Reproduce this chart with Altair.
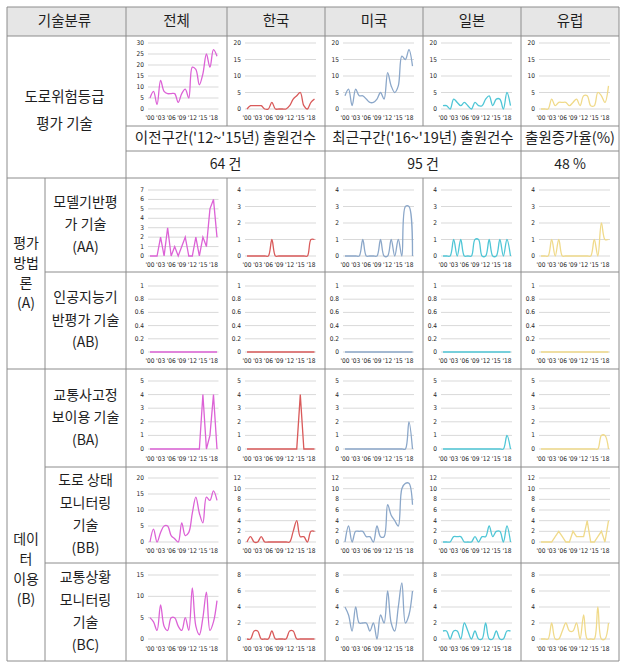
import altair as alt
import pandas as pd

# ---------------- data ----------------
YEARS = [2000, 2001, 2002, 2003, 2004, 2005, 2006, 2007, 2008, 2009,
         2010, 2011, 2012, 2013, 2014, 2015, 2016, 2017, 2018, 2019]
X_TICK_YEARS = [2000, 2003, 2006, 2009, 2012, 2015, 2018]
X_TICK_LABELS = ["'00", "'03", "'06", "'09", "'12", "'15", "'18"]

COUNTRIES = ["전체", "한국", "미국", "일본", "유럽"]
COLORS = ["#dc62d6", "#d95a5a", "#8ba7c9", "#4fc6d6", "#f0da8a"]

# 도로위험등급 평가 기술
road_total = [5, 8, 2, 13, 8, 7, 7, 7, 3, 7, 9, 5, 19, 18, 11, 16, 25, 19, 27, 24]
road_kr = [0, 1, 1, 1, 1, 0, 0, 2, 0, 0, 0, 0, 1, 3, 4, 5, 1, 0, 2, 3]
road_us = [4, 6, 1, 6, 4, 4, 3, 2, 2, 3, 5, 3, 11, 7, 5, 7, 16, 15, 18, 13]
road_jp = [1, 1, 0, 3, 2, 1, 2, 1, 0, 2, 1, 1, 3, 4, 1, 3, 3, 0, 5, 1]
road_eu = [0, 0, 0, 3, 1, 2, 2, 2, 1, 2, 3, 1, 4, 4, 1, 1, 5, 4, 2, 7]

# AA 모델기반평가 기술
aa_total = [0, 0, 0, 2, 0, 3, 0, 1, 0, 1, 2, 0, 0, 2, 0, 2, 1, 5, 6, 2]
aa_kr = [0, 0, 0, 0, 0, 0, 0, 1, 0, 0, 0, 0, 0, 0, 0, 0, 0, 0, 1, 1]
aa_us = [0, 0, 0, 0, 0, 1, 0, 0, 0, 0, 1, 0, 0, 1, 0, 1, 0, 3, 3, 0]
aa_jp = [0, 0, 0, 1, 0, 1, 0, 0, 0, 1, 1, 0, 0, 1, 0, 0, 1, 0, 1, 0]
aa_eu = [0, 0, 0, 1, 0, 1, 0, 0, 0, 0, 0, 0, 0, 0, 0, 1, 0, 2, 1, 1]

# AB 인공지능기반평가 기술
ab_total = [0, 0, 0, 0, 0, 0, 0, 0, 0, 0, 0, 0, 0, 0, 0, 0, 0, 0, 0, 0]
ab_kr = [0, 0, 0, 0, 0, 0, 0, 0, 0, 0, 0, 0, 0, 0, 0, 0, 0, 0, 0, 0]
ab_us = [0, 0, 0, 0, 0, 0, 0, 0, 0, 0, 0, 0, 0, 0, 0, 0, 0, 0, 0, 0]
ab_jp = [0, 0, 0, 0, 0, 0, 0, 0, 0, 0, 0, 0, 0, 0, 0, 0, 0, 0, 0, 0]
ab_eu = [0, 0, 0, 0, 0, 0, 0, 0, 0, 0, 0, 0, 0, 0, 0, 0, 0, 0, 0, 0]

# BA 교통사고정보이용 기술
ba_total = [0, 0, 0, 0, 0, 0, 0, 0, 0, 0, 0, 0, 0, 0, 0, 4, 0, 1, 4, 0]
ba_kr = [0, 0, 0, 0, 0, 0, 0, 0, 0, 0, 0, 0, 0, 0, 0, 4, 0, 0, 0, 0]
ba_us = [0, 0, 0, 0, 0, 0, 0, 0, 0, 0, 0, 0, 0, 0, 0, 0, 0, 0, 2, 0]
ba_jp = [0, 0, 0, 0, 0, 0, 0, 0, 0, 0, 0, 0, 0, 0, 0, 0, 0, 0, 1, 0]
ba_eu = [0, 0, 0, 0, 0, 0, 0, 0, 0, 0, 0, 0, 0, 0, 0, 0, 0, 1, 1, 0]

# BB 도로 상태 모니터링 기술
bb_total = [0, 4, 0, 3, 5, 5, 2, 1, 0, 6, 2, 3, 9, 14, 9, 6, 14, 13, 16, 13]
bb_kr = [0, 1, 0, 0, 1, 0, 0, 0, 0, 0, 0, 0, 0, 2, 4, 1, 1, 0, 2, 2]
bb_us = [0, 3, 0, 2, 2, 2, 1, 1, 0, 3, 1, 1, 7, 5, 4, 3, 10, 11, 11, 7]
bb_jp = [0, 0, 0, 1, 1, 1, 0, 0, 0, 1, 0, 1, 1, 3, 1, 2, 2, 0, 3, 0]
bb_eu = [0, 0, 0, 0, 1, 2, 1, 0, 0, 2, 1, 1, 1, 4, 0, 0, 1, 2, 0, 4]

# BC 교통상황 모니터링 기술
bc_total = [5, 4, 2, 8, 3, 2, 5, 5, 3, 2, 5, 2, 12, 3, 1, 5, 11, 2, 4, 9]
bc_kr = [0, 0, 1, 1, 0, 0, 0, 1, 0, 0, 0, 0, 1, 1, 0, 0, 0, 0, 0, 0]
bc_us = [4, 3, 1, 4, 2, 2, 2, 1, 2, 0, 3, 2, 6, 2, 1, 4, 7, 2, 3, 6]
bc_jp = [1, 1, 0, 1, 1, 0, 2, 1, 0, 1, 0, 0, 2, 0, 0, 1, 0, 0, 1, 1]
bc_eu = [0, 0, 0, 2, 0, 0, 1, 2, 1, 1, 2, 0, 3, 0, 0, 0, 4, 0, 0, 2]

# y-axis ticks (전체, 나머지 국가)
road_ticks = ([0, 5, 10, 15, 20, 25, 30], [0, 5, 10, 15, 20])
aa_ticks = ([0, 1, 2, 3, 4, 5, 6, 7], [0, 1, 2, 3, 4])
ab_ticks = ([0, 0.2, 0.4, 0.6, 0.8, 1], [0, 0.2, 0.4, 0.6, 0.8, 1])
ba_ticks = ([0, 1, 2, 3, 4, 5], [0, 1, 2, 3, 4, 5])
bb_ticks = ([0, 5, 10, 15, 20], [0, 2, 4, 6, 8, 10, 12])
bc_ticks = ([0, 5, 10, 15], [0, 2, 4, 6, 8])

# texts
HEADER_LEFT = "기술분류"
ROAD_LABEL = ["도로위험등급", "평가 기술"]
SUMMARY_LABELS = ["이전구간('12~'15년) 출원건수", "최근구간('16~'19년) 출원건수", "출원증가율(%)"]
SUMMARY_VALUES = ["64 건", "95 건", "48 %"]
GROUP_LABELS = [["평가", "방법", "론", "(A)"], ["데이", "터", "이용", "(B)"]]
SUB_LABELS = [["모델기반평", "가 기술", "(AA)"], ["인공지능기", "반평가 기술", "(AB)"],
              ["교통사고정", "보이용 기술", "(BA)"], ["도로 상태", "모니터링", "기술", "(BB)"],
              ["교통상황", "모니터링", "기술", "(BC)"]]

# ---------------- styling / layout ----------------
W, H = 627, 669
FONT = "Noto Sans CJK KR"
NUM_FONT = "Liberation Sans Narrow, DejaVu Sans Condensed, Liberation Sans"
BORDER = "#8c8c8c"
GRID = "#d9d9d9"
HEADER_FILL = "#e6e6e6"
TEXT_COLOR = "#1e1e1e"
TICK_COLOR = "#262626"

# column edges: outer-left, group|sub, sub|전체, 전체|한국, 한국|미국, 미국|일본, 일본|유럽, right
XE = [7, 45, 126, 227, 325, 423, 521, 619]
COL_LEFT = XE[2:7]
COL_RIGHT = XE[3:8]
# row edges
Y_TOP, Y_HEAD, Y_ROAD, Y_SUML, Y_SUMV = 7, 36, 126, 151, 178
Y_AA, Y_AB, Y_BA, Y_BB, Y_BC = 272, 369, 467, 563, 661

# spark rows: (row top, plot-top offset, zero-line offset, x-label offset)
SPARK_ROWS = [
    (Y_HEAD, 7, 73, 82),
    (Y_SUMV, 12, 78, 87),
    (Y_AA, 14, 80, 89),
    (Y_AB, 12, 80, 90),
    (Y_BA, 11, 75, 84),
    (Y_BB, 12, 76, 86),
]
C, L = "catmull-rom", "linear"
SPARK_DATA = [
    ([road_total, road_kr, road_us, road_jp, road_eu], road_ticks, [C, C, C, C, C]),
    ([aa_total, aa_kr, aa_us, aa_jp, aa_eu], aa_ticks, [L, C, C, C, C]),
    ([ab_total, ab_kr, ab_us, ab_jp, ab_eu], ab_ticks, [L, L, L, L, L]),
    ([ba_total, ba_kr, ba_us, ba_jp, ba_eu], ba_ticks, [L, L, C, C, C]),
    ([bb_total, bb_kr, bb_us, bb_jp, bb_eu], bb_ticks, [C, C, C, C, L]),
    ([bc_total, bc_kr, bc_us, bc_jp, bc_eu], bc_ticks, [C, C, C, C, C]),
]


def fmt(v):
    return f"{v:g}"


def spark(values, color, ticks, cx, cw, ry, top, zero, lab, interp, wide):
    x0 = cx + (24 if wide else 20)
    x1 = cx + cw - (10 if wide else 10.5)
    xs = alt.Scale(domain=[YEARS[0], YEARS[-1]], range=[x0, x1], zero=False, nice=False)
    ys = alt.Scale(domain=[ticks[0], ticks[-1]], range=[ry + zero, ry + top], zero=False, nice=False)
    tick_df = pd.DataFrame({"v": ticks, "lab": [fmt(t) for t in ticks]})
    xt_df = pd.DataFrame({"year": X_TICK_YEARS, "lab": X_TICK_LABELS})
    line_df = pd.DataFrame({"year": YEARS, "v": values})
    grid = alt.Chart(tick_df).mark_rule(color=GRID, strokeWidth=1).encode(
        y=alt.Y("v:Q", scale=ys, axis=None),
        x=alt.value(x0 - 2), x2=alt.value(x1 + 1.5))
    ylab = alt.Chart(tick_df).mark_text(
        font=NUM_FONT, fontSize=6.5, align="right", baseline="middle", color=TICK_COLOR
    ).encode(y=alt.Y("v:Q", scale=ys, axis=None), x=alt.value(x0 - 6), text="lab:N")
    xlab = alt.Chart(xt_df).mark_text(
        font=NUM_FONT, fontSize=6.5, align="center", baseline="middle", color=TICK_COLOR
    ).encode(x=alt.X("year:Q", scale=xs, axis=None), y=alt.value(ry + lab), text="lab:N")
    line = alt.Chart(line_df).mark_line(
        color=color, strokeWidth=1.3, interpolate=interp
    ).encode(x=alt.X("year:Q", scale=xs, axis=None), y=alt.Y("v:Q", scale=ys, axis=None))
    return alt.layer(grid, ylab, xlab, line)


layers = []

# header background
layers.append(alt.Chart(alt.Data(values=[{}])).mark_rect(color=HEADER_FILL).encode(
    x=alt.value(XE[0]), x2=alt.value(XE[-1]), y=alt.value(Y_TOP), y2=alt.value(Y_HEAD)))

# sparklines
for (ry, top, zero, lab), (series, ticks, interps) in zip(SPARK_ROWS, SPARK_DATA):
    for i in range(5):
        t = ticks[0] if i == 0 else ticks[1]
        layers.append(spark(series[i], COLORS[i], t, COL_LEFT[i], COL_RIGHT[i] - COL_LEFT[i],
                            ry, top, zero, lab, interps[i], i == 0))

# table lines (layout)
segs = []
def hseg(y, xa, xb):
    segs.append({"x": xa, "x2": xb, "y": y, "y2": y})
def vseg(x, ya, yb):
    segs.append({"x": x, "x2": x, "y": ya, "y2": yb})

for y in [Y_TOP, Y_HEAD, Y_SUMV, Y_AB, Y_BC]:
    hseg(y, XE[0], XE[-1])
for y in [Y_ROAD, Y_SUML]:
    hseg(y, XE[2], XE[-1])
for y in [Y_AA, Y_BA, Y_BB]:
    hseg(y, XE[1], XE[-1])
for x in [XE[0], XE[2], XE[4], XE[6], XE[7]]:
    vseg(x, Y_TOP, Y_BC)
vseg(XE[1], Y_SUMV, Y_BC)
for x in [XE[3], XE[5]]:
    vseg(x, Y_TOP, Y_ROAD)
    vseg(x, Y_SUMV, Y_BC)

layers.append(alt.Chart(pd.DataFrame(segs)).mark_rule(color=BORDER, strokeWidth=1).encode(
    x=alt.X("x:Q", scale=None), x2="x2:Q", y=alt.Y("y:Q", scale=None), y2="y2:Q"))

# texts (layout positions)
texts = []
def put(t, x, y, size):
    texts.append({"t": t, "x": x, "y": y, "s": size})

def put_lines(lines, x, yc, lh, size):
    n = len(lines)
    for k, t in enumerate(lines):
        put(t, x, yc + (k - (n - 1) / 2) * lh, size)

hy = (Y_TOP + Y_HEAD) / 2 + 0.5
put(HEADER_LEFT, (XE[0] + XE[2]) / 2 - 2, hy, 14.5)
for i, c in enumerate(COUNTRIES):
    put(c, (COL_LEFT[i] + COL_RIGHT[i]) / 2, hy, 14.5)
put_lines(ROAD_LABEL, (XE[0] + XE[2]) / 2 - 2, 111, 27, 14.5)
sum_x = [(XE[2] + XE[4]) / 2, (XE[4] + XE[6]) / 2, (XE[6] + XE[7]) / 2]
for k in range(3):
    put(SUMMARY_LABELS[k], sum_x[k], (Y_ROAD + Y_SUML) / 2 + 0.5, 14.5)
    put(SUMMARY_VALUES[k], sum_x[k], (Y_SUML + Y_SUMV) / 2 + 0.5, 14)
gx = (XE[0] + XE[1]) / 2
put_lines(GROUP_LABELS[0], gx, (Y_SUMV + Y_AB) / 2, 20, 14)
put_lines(GROUP_LABELS[1], gx, 570, 20, 14)
sx = (XE[1] + XE[2]) / 2
sub_bounds = [(Y_SUMV, Y_AA), (Y_AA, Y_AB), (Y_AB, Y_BA), (Y_BA, Y_BB), (Y_BB, Y_BC)]
for lines, (ya, yb) in zip(SUB_LABELS, sub_bounds):
    put_lines(lines, sx, (ya + yb) / 2, 22.5, 14)

layers.append(alt.Chart(pd.DataFrame(texts)).mark_text(
    font=FONT, color=TEXT_COLOR, align="center", baseline="middle"
).encode(x=alt.X("x:Q", scale=None), y=alt.Y("y:Q", scale=None),
         size=alt.Size("s:Q", scale=None, legend=None), text="t:N"))

chart = alt.layer(*layers).resolve_scale(x="independent", y="independent").properties(
    width=W, height=H,
    autosize=alt.AutoSizeParams(type="none"),
    padding=0,
    background="white",
).configure_view(stroke="transparent")

chart.save("out.html", embed_options={"renderer": "svg", "actions": False})
